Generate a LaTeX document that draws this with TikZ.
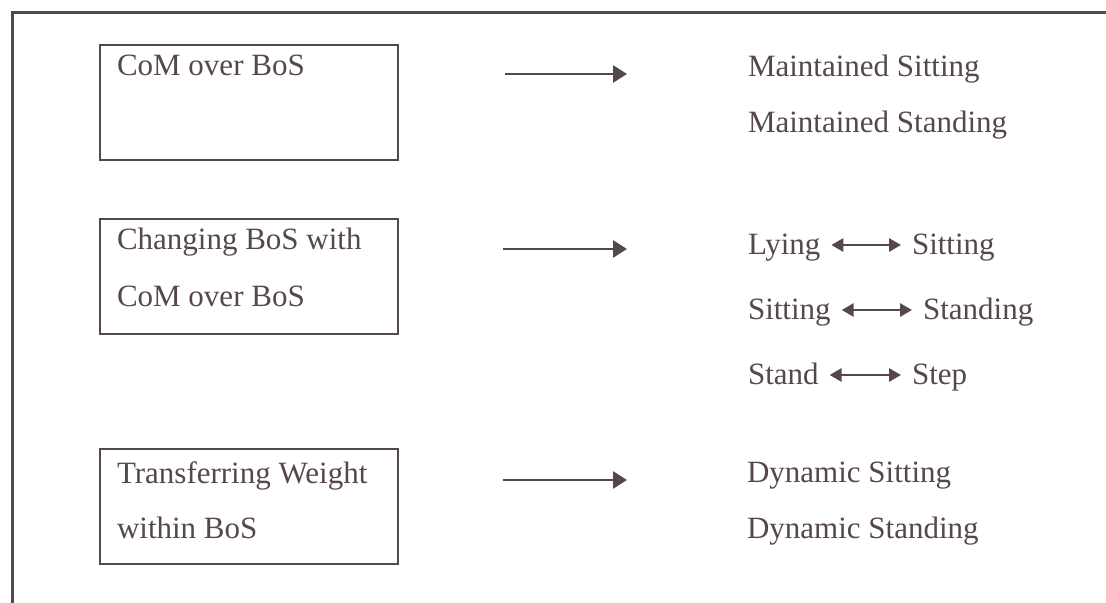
\documentclass[tikz,border=0pt]{standalone}
\usepackage{fontspec}
\setmainfont{Liberation Serif}
\usetikzlibrary{arrows.meta}
\definecolor{ink}{RGB}{86,70,80}
\begin{document}
\begin{tikzpicture}[x=0.5pt,y=-0.5pt,
  every node/.style={inner sep=0pt, outer sep=0pt, text=ink},
  box/.style={draw=ink, line width=1.1pt, minimum width=149pt, minimum height=57.5pt, anchor=north west},
  lbl/.style={anchor=base west, font=\fontsize{15.5}{18}\selectfont},
  bigarrow/.style={draw=ink, line width=1.4pt, -{Triangle[length=7pt,width=8.5pt]}},
  dblarrow/.style={draw=ink, line width=1.4pt, {Triangle[length=6pt,width=6.5pt]}-{Triangle[length=6pt,width=6.5pt]}}]
\useasboundingbox (0,0) rectangle (1106,603);
\fill[white] (0,0) rectangle (1106,603);
\draw[ink, line width=1.5pt] (12,610) -- (12,13) -- (1110,13);

% boxes
\node[box] (box1) at (100,45) {};
\node[box] (box2) at (100,219) {};
\node[box] (box3) at (100,449) {};

% box texts
\node[lbl] (t1) at (117,76) {CoM over BoS};
\node[lbl] (t2a) at (117,250) {Changing BoS with};
\node[lbl] (t2b) at (117,307) {CoM over BoS};
\node[lbl] (t3a) at (117,483) {Transferring Weight};
\node[lbl] (t3b) at (117,538) {within BoS};

% right texts
\node[lbl] (r1a) at (748,77) {Maintained Sitting};
\node[lbl] (r1b) at (748,133) {Maintained Standing};
\node[lbl] (lying) at (748,255) {Lying};
\node[lbl] (sit1) at (912,255) {Sitting};
\node[lbl] (sit2) at (748,320) {Sitting};
\node[lbl] (stand1) at (923,320) {Standing};
\node[lbl] (stand2) at (748,385) {Stand};
\node[lbl] (step) at (912,385) {Step};
\node[lbl] (r3a) at (747,482) {Dynamic Sitting};
\node[lbl] (r3b) at (747,538) {Dynamic Standing};

% main arrows
\coordinate (a1s) at (505,74);  \coordinate (a1e) at (627,74);
\coordinate (a2s) at (503,249); \coordinate (a2e) at (627,249);
\coordinate (a3s) at (503,480); \coordinate (a3e) at (627,480);
\draw[bigarrow] (a1s) -- (a1e);
\draw[bigarrow] (a2s) -- (a2e);
\draw[bigarrow] (a3s) -- (a3e);

% double arrows
\draw[dblarrow] ([shift={(5.5pt,5pt)}]lying.base east) -- ([shift={(-5.5pt,5pt)}]sit1.base west);
\draw[dblarrow] ([shift={(5.5pt,5pt)}]sit2.base east) -- ([shift={(-5.5pt,5pt)}]stand1.base west);
\draw[dblarrow] ([shift={(5.5pt,5pt)}]stand2.base east) -- ([shift={(-5.5pt,5pt)}]step.base west);
\end{tikzpicture}
\end{document}
